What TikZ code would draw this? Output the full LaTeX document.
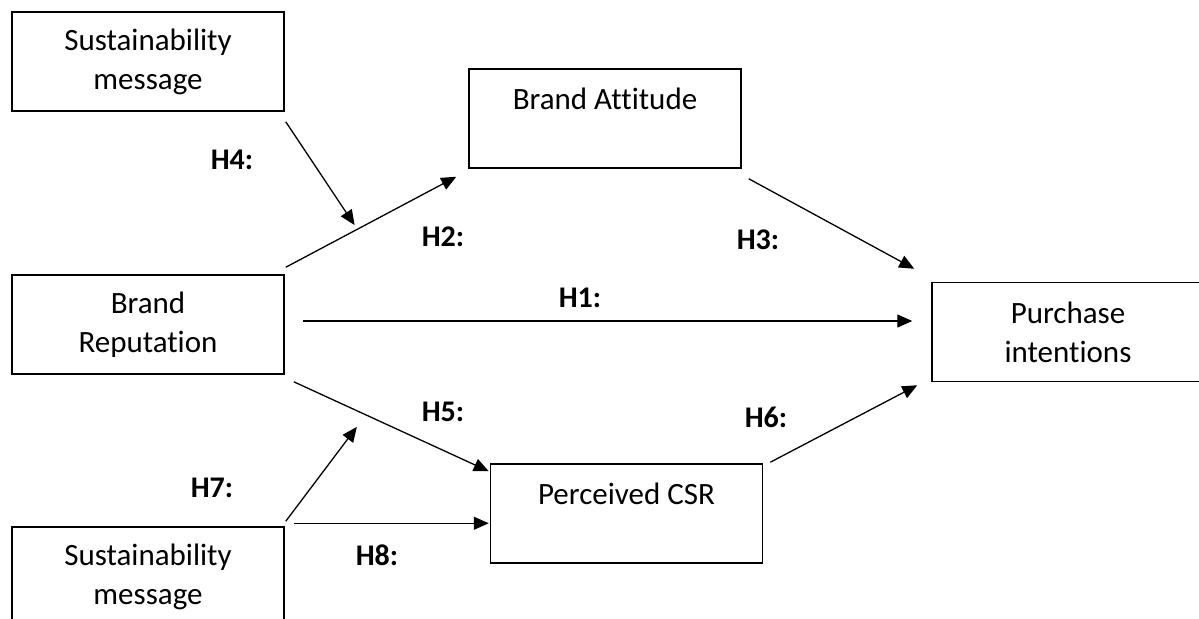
\documentclass[tikz,border=0pt]{standalone}
\usepackage{fontspec}
\setmainfont[Ligatures=NoCommon]{Carlito}
\usetikzlibrary{arrows.meta,calc}

\begin{document}
\begin{tikzpicture}[x=0.5pt,y=-0.5pt,
        box/.style={draw, line width=0.75pt, minimum width=136pt, minimum height=49.5pt, inner sep=0pt, align=center, font=\fontsize{15.5}{19.5}\selectfont},
        hyp/.style={inner sep=0pt, font=\fontsize{15}{18}\selectfont\bfseries},
        link/.style={line width=0.65pt, -{Triangle[length=7.5pt,width=6.5pt]}}]
                \useasboundingbox (0,0) rectangle (1199,618);
                \clip (0,0) rectangle (1199,618);

                \node[box] (SM1) at (148,61.5) {Sustainability\\message};
                \node[box] (BA) at (605,118.5) {Brand Attitude\\\mbox{}};
                \node[box] (BR) at (148,324.5) {Brand\\Reputation};
                \node[box] (PI) at (1068,332) {Purchase\\intentions};
                \node[box] (CSR) at (626.5,513.5) {Perceived CSR\\\mbox{}};
                \node[box] (SM2) at (148,576.5) {Sustainability\\message};

                \draw[link] ($(BR.north east)+(1,-7)$) -- coordinate[pos=0.42] (h2m) ($(BA.south west)+(-12,8)$);
                \draw[link, shorten >=2.5pt] ($(SM1.south east)+(1,10)$) -- (h2m);
                \draw[link] ($(BA.south east)+(7,10)$) -- ($(PI.north west)+(-17,-13)$);
                \draw[link] ($(BR.east)+(18,-3.5)$) -- ($(BR.east -| PI.west)+(-19,-3.5)$);
                \draw[link] ($(BR.south east)+(9,7)$) -- coordinate[pos=0.37] (h5m) ($(CSR.north west)+(-1,8)$);
                \draw[link, shorten >=7.5pt] ($(SM2.north east)+(1,-5)$) -- (h5m);
                \draw[link] ($(CSR.north east)+(7,-1)$) -- ($(PI.south west)+(-14,3)$);
                \draw[link] ($(SM2.north east)+(9,-3)$) -- ($(SM2.north east -| CSR.west)+(-1,-3)$);

                \node[hyp] (lH1) at (580,298) {H1:};
                \node[hyp] (lH2) at (443,237) {H2:};
                \node[hyp] (lH3) at (758,240) {H3:};
                \node[hyp] (lH4) at (232,160) {H4:};
                \node[hyp] (lH5) at (443,412) {H5:};
                \node[hyp] (lH6) at (766,417) {H6:};
                \node[hyp] (lH7) at (212,488) {H7:};
                \node[hyp] (lH8) at (377,555) {H8:};
\end{tikzpicture}
\end{document}
